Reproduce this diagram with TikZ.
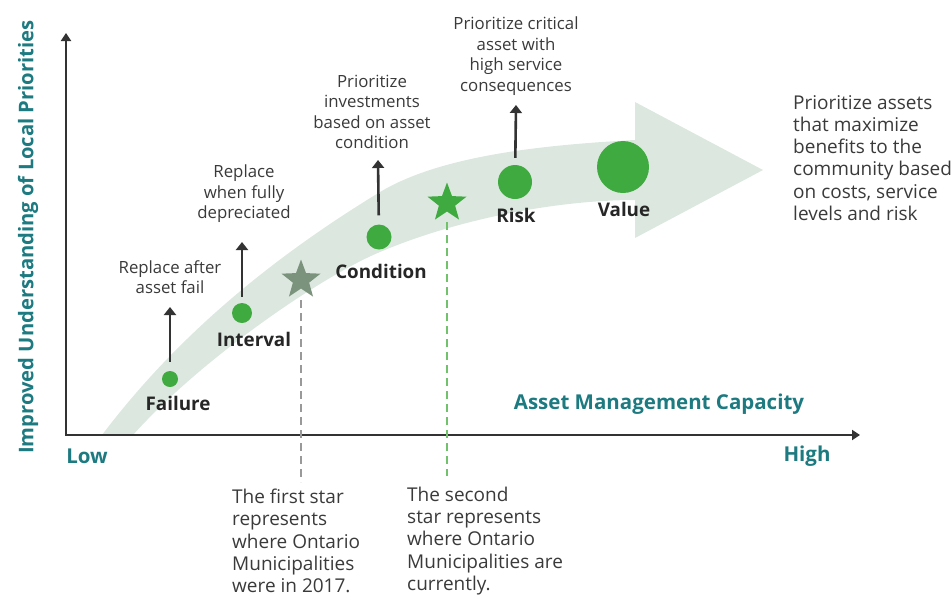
\documentclass[tikz,border=0pt]{standalone}
\usepackage{fontspec}
\setmainfont{Open Sans}
\usetikzlibrary{shapes.geometric,arrows.meta}
\definecolor{bandgreen}{HTML}{DCE8DF}
\definecolor{dotgreen}{HTML}{3FAA3F}
\definecolor{oldstar}{HTML}{7B937C}
\definecolor{newdash}{HTML}{72C26C}
\definecolor{axisteal}{HTML}{1C7A80}
\definecolor{inkgray}{HTML}{333333}
\definecolor{txtgray}{HTML}{3A3A3A}
\begin{document}
\begin{tikzpicture}[x=1pt,y=-1pt,
  dot/.style={circle,fill=dotgreen,inner sep=0pt},
  starmark/.style={star,star points=5,star point ratio=2.4,inner sep=0pt,minimum size=41pt},
  stage/.style={font=\fontsize{18.8}{22}\selectfont\bfseries,text=black!85,inner sep=0pt},
  desc/.style={font=\fontsize{16.8}{20.5}\selectfont,text=txtgray,align=center,inner sep=0pt},
  note/.style={font=\fontsize{19}{22.2}\selectfont,text=txtgray,align=left,inner sep=0pt},
  axistitle/.style={font=\fontsize{20.5}{23}\selectfont\bfseries,text=axisteal,inner sep=0pt},
  up/.style={draw=inkgray,line width=2.6pt,-{Triangle[width=12pt,length=8pt]}},
  axisline/.style={draw=inkgray,line width=2.4pt,{Triangle[width=10pt,length=8pt]}-{Triangle[width=10pt,length=8pt]}},
  guide/.style={line width=2.6pt,dash pattern=on 8pt off 5pt}]
\useasboundingbox (0,0) rectangle (952,598);

% curved progress arrow in the background
\fill[bandgreen] (102,435) .. controls (170,345) and (260,265) .. (380,192)
  .. controls (440,156) and (540,145) .. (635,140)
  -- (635,102) -- (763,170) -- (635,238) -- (635,200)
  .. controls (560,200) and (460,218) .. (380,252)
  .. controls (320,277) and (200,360) .. (133,435) -- cycle;

% axes
\coordinate (origin) at (66,435);
\coordinate (ytop) at (66,33);
\coordinate (xend) at (860,435);
\draw[axisline] (ytop) -- (origin) -- (xend);

% axis labels
\node[axistitle,font=\fontsize{20.2}{23}\selectfont\bfseries] (ylabel) at (28,237) [rotate=90] {Improved Understanding of Local Priorities};
\node[axistitle] (xlabel) at (659,404) {Asset Management Capacity};
\node[axistitle] (low) at (87,456) {Low};
\node[axistitle] (high) at (807,456) {High};

% stars and their guide lines
\node[starmark,fill=oldstar] (star1) at (301,280) {};
\node[starmark,fill=dotgreen] (star2) at (447,203) {};
\coordinate (star1end) at (301,482);
\coordinate (star2end) at (447,476);
\draw[guide,draw=black!40] (star1) ++(0,20) -- (star1end);
\draw[guide,draw=newdash] (star2) ++(0,19) -- (star2end);

% stages
\node[dot,minimum size=16pt] (failure) at (170,379) {};
\node[dot,minimum size=20pt] (interval) at (242,313) {};
\node[dot,minimum size=25pt] (condition) at (379,237) {};
\node[dot,minimum size=34pt] (risk) at (515,182) {};
\node[dot,minimum size=52pt] (value) at (623,167) {};

\node[stage] (failureLbl) at (178,403) {Failure};
\node[stage] (intervalLbl) at (254,339) {Interval};
\node[stage] (conditionLbl) at (381,271) {Condition};
\node[stage] (riskLbl) at (516,215) {Risk};
\node[stage] (valueLbl) at (624,209) {Value};

% stage descriptions
\node[desc] (failureTxt) at (170,277) {Replace after\\asset fail};
\node[desc] (intervalTxt) at (244,194) {Replace\\when fully\\depreciated};
\node[desc] (conditionTxt) at (372,112) {Prioritize\\investments\\based on asset\\condition};
\node[desc] (riskTxt) at (516,56) {Prioritize critical\\asset with\\high service\\consequences};
\node[note,anchor=west] (valueTxt) at (793,158) {Prioritize assets\\that maximize\\benefits to the\\community based\\on costs, service\\levels and risk};

\coordinate (failureTip) at (170,307);
\coordinate (intervalTip) at (242,242);
\coordinate (conditionTip) at (378,160);
\coordinate (riskTip) at (516,105);
\draw[up,shorten <=9pt] (failure) -- (failureTip);
\draw[up,shorten <=6pt] (interval) -- (intervalTip);
\draw[up,shorten <=9pt] (condition) -- (conditionTip);
\draw[up,shorten <=7pt] (risk) -- (riskTip);

% star notes
\node[note,anchor=west] (star1Txt) at (232,541) {The first star\\represents\\where Ontario\\Municipalities\\were in 2017.};
\node[note,anchor=west] (star2Txt) at (407,541) {The second\\star represents\\where Ontario\\Municipalities are\\currently.};
\end{tikzpicture}
\end{document}
